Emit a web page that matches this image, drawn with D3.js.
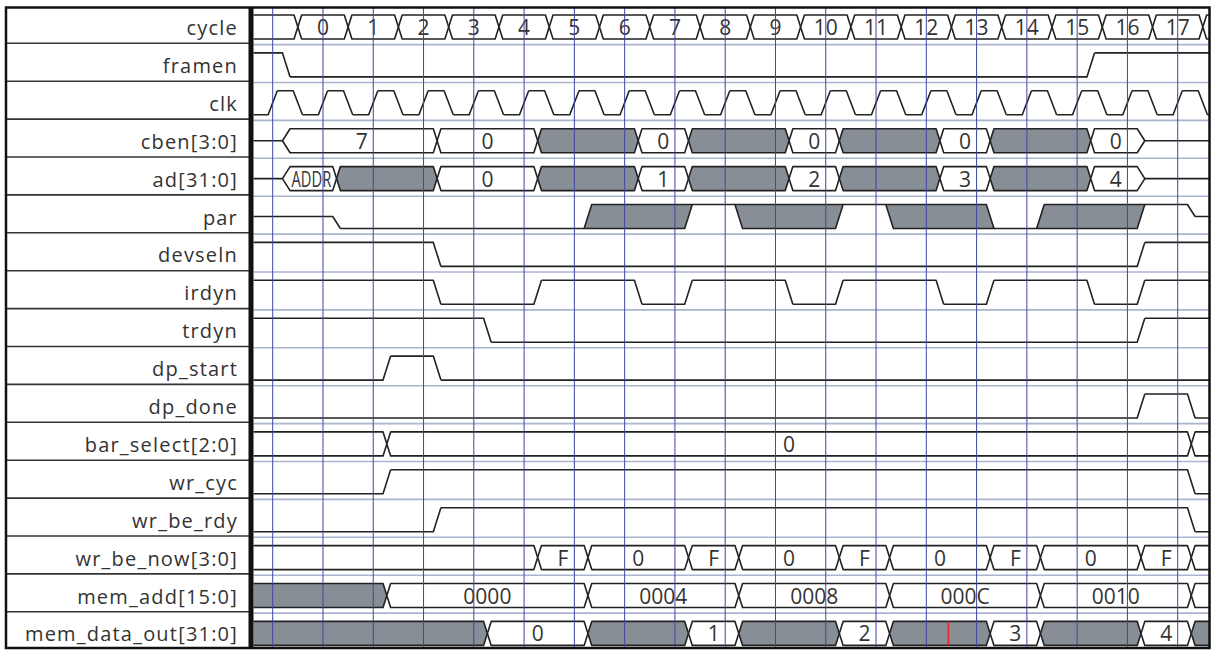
<!DOCTYPE html>
<html><head><meta charset="utf-8">
<script src="https://cdn.jsdelivr.net/npm/d3@7"></script>
<style>
html,body{margin:0;padding:0;background:#fff;}
svg{display:block;}
</style></head><body>
<svg id="c" width="1213" height="652"></svg>
<script>
// ---------------- DATA ----------------
const signalNames = ["cycle","framen","clk","cben[3:0]","ad[31:0]","par","devseln","irdyn","trdyn",
  "dp_start","dp_done","bar_select[2:0]","wr_cyc","wr_be_rdy","wr_be_now[3:0]","mem_add[15:0]","mem_data_out[31:0]"];
const signalKinds = ["bus","bit","clock","bus","bus","bit","bit","bit","bit",
  "bit","bit","bus","bit","bit","bus","bus","bus"];
// clock rising edges (grid lines), in clock periods
const gridTicks = [0,1,2,3,4,5,6,7,8,9,10,11,12,13,14,15,16,17,18];

// events: [time (clock periods), value]; bit values 1/0/"z"/"x"; bus values label/""/"z"/"X"
const cycle = [[-1,""],[0.5,"0"],[1.5,"1"],[2.5,"2"],[3.5,"3"],[4.5,"4"],[5.5,"5"],[6.5,"6"],[7.5,"7"],
  [8.5,"8"],[9.5,"9"],[10.5,"10"],[11.5,"11"],[12.5,"12"],[13.5,"13"],[14.5,"14"],[15.5,"15"],
  [16.5,"16"],[17.5,"17"],[18.5,""]];
const framen = [[-1,1],[0.27,0],[16.27,1]];
const clk = [[-1,0],[0,1],[0.5,0],[1,1],[1.5,0],[2,1],[2.5,0],[3,1],[3.5,0],[4,1],[4.5,0],[5,1],[5.5,0],
  [6,1],[6.5,0],[7,1],[7.5,0],[8,1],[8.5,0],[9,1],[9.5,0],[10,1],[10.5,0],[11,1],[11.5,0],[12,1],[12.5,0],
  [13,1],[13.5,0],[14,1],[14.5,0],[15,1],[15.5,0],[16,1],[16.5,0],[17,1],[17.5,0],[18,1],[18.5,0]];
const cben = [[-1,"z"],[0.27,"7"],[3.27,"0"],[5.27,"X"],[7.27,"0"],[8.27,"X"],[10.27,"0"],[11.27,"X"],
  [13.27,"0"],[14.27,"X"],[16.27,"0"],[17.27,"z"]];
const ad = [[-1,"z"],[0.27,"ADDR"],[1.27,"X"],[3.27,"0"],[5.27,"X"],[7.27,"1"],[8.27,"X"],[10.27,"2"],
  [11.27,"X"],[13.27,"3"],[14.27,"X"],[16.27,"4"],[17.27,"z"]];
const par = [[-1,"z"],[1.27,0],[6.27,"x"],[8.27,1],[9.27,"x"],[11.27,1],[12.27,"x"],[14.27,0],
  [15.27,"x"],[17.27,1],[18.27,"z"]];
const devseln = [[-1,1],[3.27,0],[17.27,1]];
const irdyn = [[-1,1],[3.27,0],[5.27,1],[7.27,0],[8.27,1],[10.27,0],[11.27,1],[13.27,0],[14.27,1],
  [16.27,0],[17.27,1]];
const trdyn = [[-1,1],[4.27,0],[17.27,1]];
const dp_start = [[-1,0],[2.27,1],[3.27,0]];
const dp_done = [[-1,0],[17.27,1],[18.27,0]];
const bar_select = [[-1,""],[2.27,"0"],[18.27,""]];
const wr_cyc = [[-1,0],[2.27,1],[18.27,0]];
const wr_be_rdy = [[-1,0],[3.27,1],[18.27,0]];
const wr_be_now = [[-1,""],[5.27,"F"],[6.27,"0"],[8.27,"F"],[9.27,"0"],[11.27,"F"],[12.27,"0"],
  [14.27,"F"],[15.27,"0"],[17.27,"F"],[18.27,""]];
const mem_add = [[-1,"X"],[2.27,"0000"],[6.27,"0004"],[9.27,"0008"],[12.27,"000C"],[15.27,"0010"],[18.27,""]];
const mem_data_out = [[-1,"X"],[4.27,"0"],[6.27,"X"],[8.27,"1"],[9.27,"X"],[11.27,"2"],[12.27,"X"],
  [14.27,"3"],[15.27,"X"],[17.27,"4"],[18.27,"X"]];
const cursorTime = 13.44; // red marker in mem_data_out row
const cursorRow = 16;

const signalEvents = [cycle,framen,clk,cben,ad,par,devseln,irdyn,trdyn,dp_start,dp_done,bar_select,
  wr_cyc,wr_be_rdy,wr_be_now,mem_add,mem_data_out];

// ---------------- LAYOUT / STYLE ----------------
const LEFT=6, RIGHT=1209.5, TOP=7.5, BOT=648, DIV=251, X0=253.5;
const rowPitch=37.9, sepBase=5.4, midBase=27, AMP=12;
const T_END = 19.5;
const lineColor="#222", gridColor="#3f45a3", lightColor="#aab3d0", grayFill="#878e96", textColor="#333";
const FONT="'Open Sans', 'Noto Sans', sans-serif";

const svg = d3.select("#c");
const x = d3.scaleLinear().domain([0,18]).range([272.7,1177.7]);
const rowMid = i => midBase + rowPitch*i;
const rowSep = k => sepBase + rowPitch*k;
const edgeHalf = {clock:4.6, bit:3.8, bus:3.8};

svg.append("rect").attr("width",1213).attr("height",652).attr("fill","#fff");

svg.append("defs").append("clipPath").attr("id","wave")
  .append("rect").attr("x",X0).attr("y",TOP).attr("width",RIGHT-X0).attr("height",BOT-TOP);

// light row lines in wave area
const light = svg.append("g");
d3.range(1,signalNames.length).forEach(k=>{
  light.append("line").attr("x1",X0).attr("x2",RIGHT).attr("y1",rowSep(k)+1.3).attr("y2",rowSep(k)+1.3)
    .attr("stroke",lightColor).attr("stroke-width",1.6);
});

const waves = svg.append("g").attr("clip-path","url(#wave)");

function levelY(v,m){ return v===1? m-AMP : v===0? m+AMP : m; }

function drawBit(g, ev, m, hw){
  const n = ev.length;
  const top=m-AMP, bot=m+AMP;
  for(let i=0;i<n;i++){
    const s=ev[i][0], e = i+1<n? ev[i+1][0] : T_END, v=ev[i][1];
    const xs=x(s), xe=x(e);
    if(v==="x"){
      const p = i>0? ev[i-1][1] : 0, q = i+1<n? ev[i+1][1] : 0;
      const tl = p===1? xs-hw : xs+hw, bl = p===1? xs+hw : xs-hw;
      const tr = q===1? xe+hw : xe-hw, br = q===1? xe-hw : xe+hw;
      g.append("path").attr("d",`M${tl},${top}L${tr},${top}L${br},${bot}L${bl},${bot}Z`)
        .attr("fill",grayFill).attr("stroke",lineColor).attr("stroke-width",1.6).attr("stroke-linejoin","round");
    } else {
      const y = levelY(v,m);
      const a = i>0? xs+hw : xs, b = i+1<n? xe-hw : xe;
      let d = `M${a},${y}L${b},${y}`;
      if(i+1<n && ev[i+1][1]!=="x"){
        d += `L${xe+hw},${levelY(ev[i+1][1],m)}`;
      }
      g.append("path").attr("d",d).attr("fill","none").attr("stroke",lineColor)
        .attr("stroke-width",1.6).attr("stroke-linejoin","round");
    }
  }
}

function drawBus(g, ev, m, hw){
  const n = ev.length;
  const top=m-AMP, bot=m+AMP;
  for(let i=0;i<n;i++){
    const s=ev[i][0], e = i+1<n? ev[i+1][0] : T_END, v=ev[i][1];
    const xs=x(s), xe=x(e);
    const p = i>0? ev[i-1][1] : null, q = i+1<n? ev[i+1][1] : null;
    if(v==="z"){
      const a = p!==null? xs+hw : xs, b = q!==null? xe-hw : xe;
      g.append("path").attr("d",`M${a},${m}L${b},${m}`).attr("stroke",lineColor).attr("stroke-width",1.6);
      continue;
    }
    const lt = p==="z"? xs-hw : xs;
    const rt = q==="z"? xe+hw : xe;
    const d = `M${xs+hw},${top}L${xe-hw},${top}L${rt},${m}L${xe-hw},${bot}L${xs+hw},${bot}L${lt},${m}Z`;
    g.append("path").attr("d",d).attr("fill", v==="X"? grayFill : "#fff")
      .attr("stroke",lineColor).attr("stroke-width",1.6).attr("stroke-linejoin","round");
    if(v!=="X" && v!==""){
      const t = g.append("text").attr("x",(xs+xe)/2).attr("y",m+8)
        .attr("text-anchor","middle").attr("font-family",FONT).attr("font-size",21)
        .attr("fill",textColor).text(v);
      const avail = (xe-xs) - 2*hw - 3;
      const w = t.node().getComputedTextLength();
      if(w>avail){ t.attr("textLength",avail).attr("lengthAdjust","spacingAndGlyphs"); }
    }
  }
}

signalEvents.forEach((ev,i)=>{
  const kind = signalKinds[i], m=rowMid(i);
  if(kind==="bus") drawBus(waves, ev, m, edgeHalf.bus);
  else drawBit(waves, ev, m, edgeHalf[kind]);
});

// cursor
waves.append("line").attr("x1",x(cursorTime)).attr("x2",x(cursorTime))
  .attr("y1",rowMid(cursorRow)-AMP).attr("y2",rowMid(cursorRow)+AMP)
  .attr("stroke","#e0252a").attr("stroke-width",1.6);

// vertical grid lines on top
const grid = svg.append("g");
gridTicks.forEach(k=>{
  grid.append("line").attr("x1",x(k)).attr("x2",x(k)).attr("y1",TOP).attr("y2",BOT)
    .attr("stroke",gridColor).attr("stroke-width",1);
});

// label column
const lab = svg.append("g");
d3.range(1,signalNames.length).forEach(k=>{
  lab.append("line").attr("x1",LEFT).attr("x2",DIV).attr("y1",rowSep(k)).attr("y2",rowSep(k))
    .attr("stroke","#333").attr("stroke-width",1.6);
});
signalNames.forEach((nm,i)=>{
  lab.append("text").attr("x",238).attr("y",rowMid(i)+8).attr("text-anchor","end")
    .attr("font-family",FONT).attr("font-size",20).attr("letter-spacing","1.2px")
    .attr("fill",textColor).text(nm);
});

// divider and border
svg.append("line").attr("x1",DIV).attr("x2",DIV).attr("y1",TOP).attr("y2",BOT)
  .attr("stroke","#111").attr("stroke-width",5);
svg.append("rect").attr("x",LEFT).attr("y",TOP).attr("width",RIGHT-LEFT).attr("height",BOT-TOP)
  .attr("fill","none").attr("stroke","#111").attr("stroke-width",2.5);
</script>
</body></html>
